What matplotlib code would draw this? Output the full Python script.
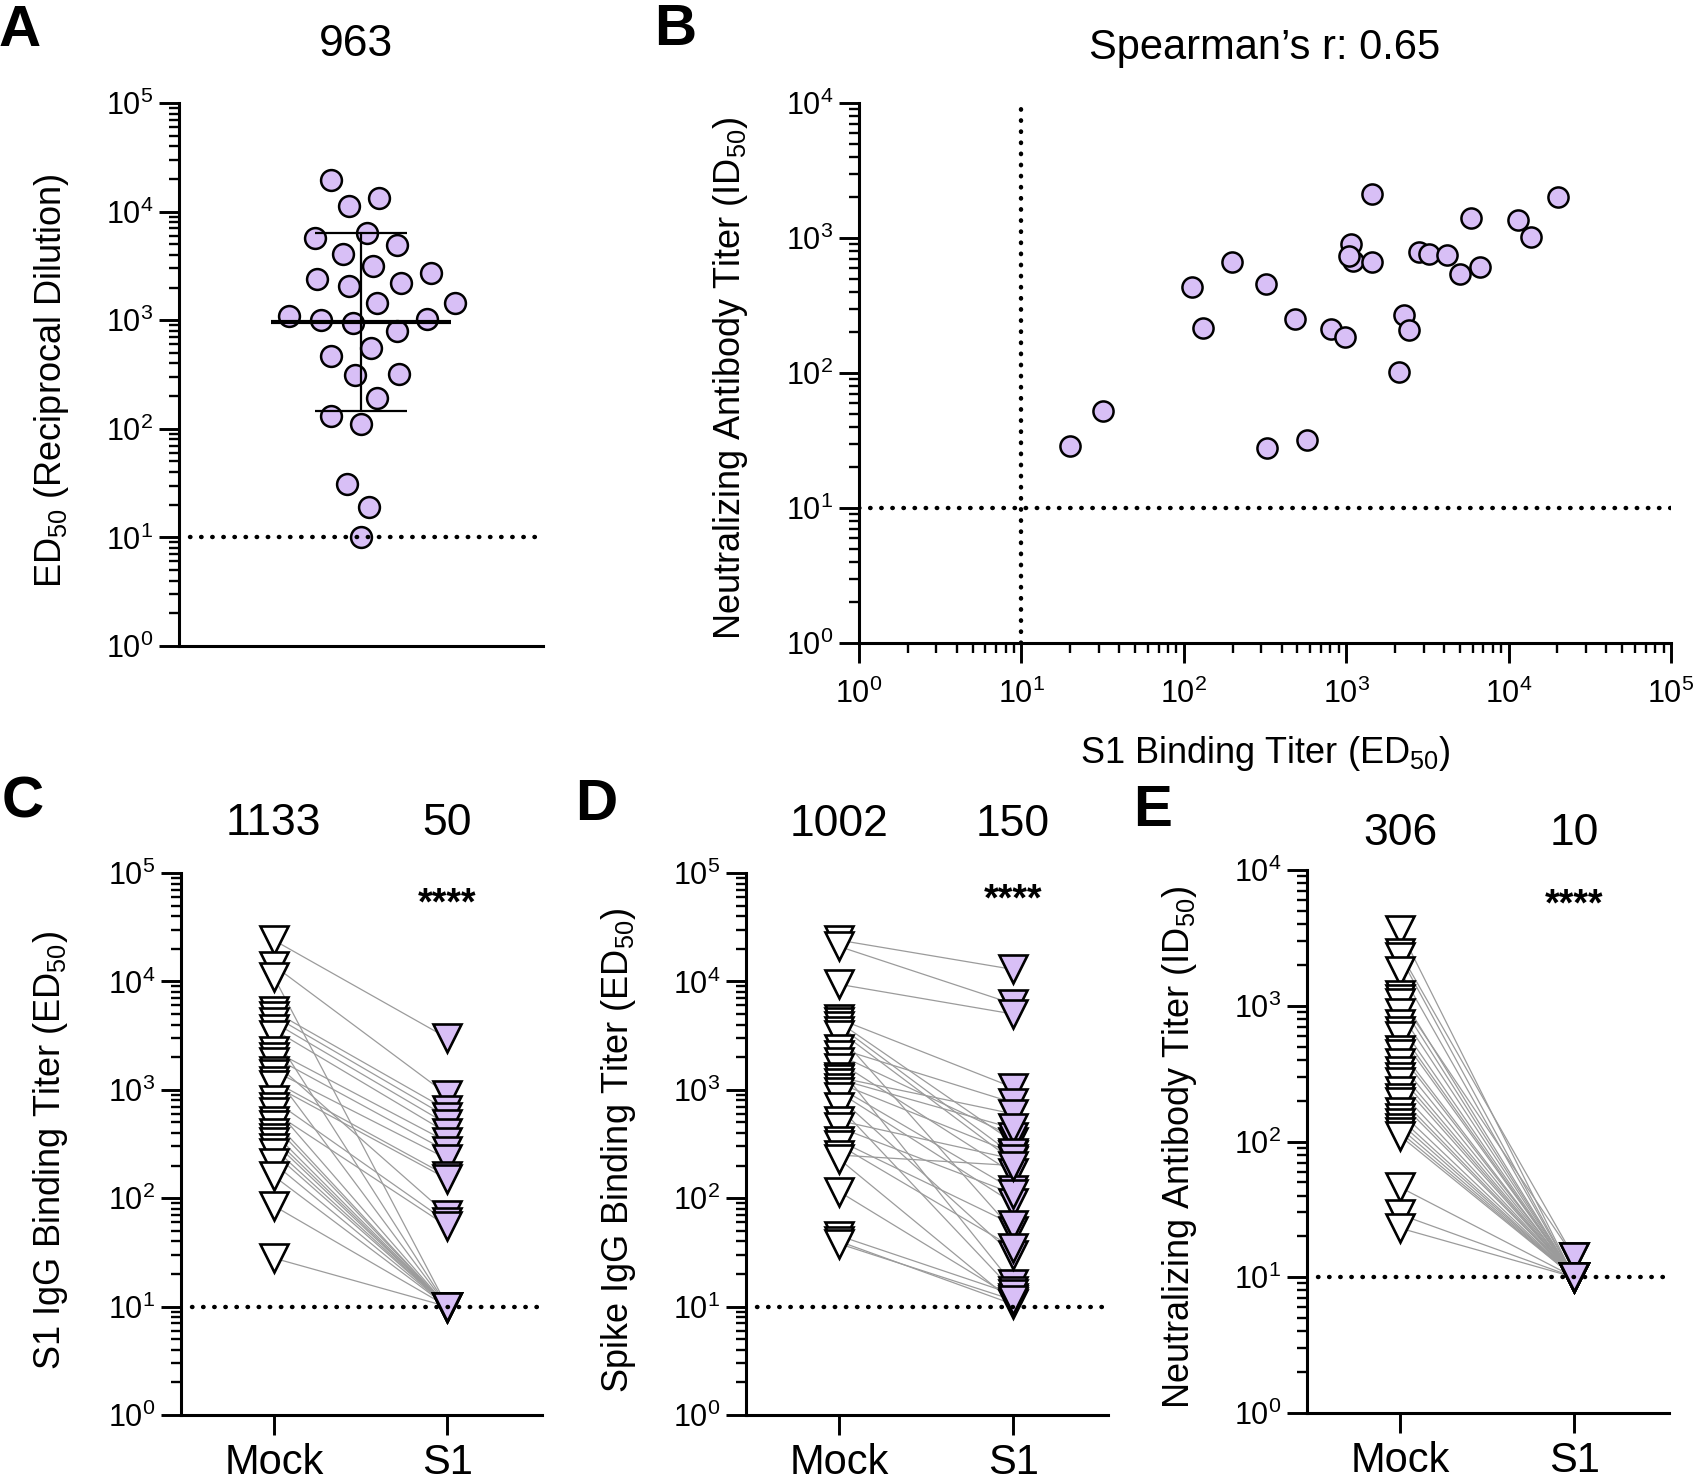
import numpy as np
import matplotlib.pyplot as plt
import matplotlib.transforms as mtransforms
from matplotlib.ticker import FixedLocator, LogLocator, NullFormatter, FuncFormatter

plt.rcParams['font.family'] = ['Liberation Sans', 'DejaVu Sans']
plt.rcParams['mathtext.fontset'] = 'custom'
plt.rcParams['mathtext.rm'] = 'Liberation Sans'
plt.rcParams['mathtext.it'] = 'Liberation Sans:italic'
plt.rcParams['mathtext.bf'] = 'Liberation Sans:bold'

W, H = 1694, 1481
LAV = '#D8BFF6'
GREY = '#9B9B9B'

# ---- A: S1 binding titers (ED50) ----
ed50_A = [19500, 13400, 11200, 6400, 5750, 4950, 4050, 3150, 2700, 2400, 2200, 2050,
          1440, 1440, 1100, 1030, 1000, 940, 790, 550, 470, 320, 310, 194, 130, 110,
          31, 19, 10]
gmt_A = 963
gsd_A = 6.65

# ---- B: binding vs neutralizing ----
s1_B = [20, 32, 113, 131, 198, 321, 327, 486, 570, 805, 982, 1063, 1095, 1042, 1432,
        1445, 2128, 2278, 2443, 2806, 3222, 4168, 5036, 5894, 6635, 11430, 13800, 20100]
nab_B = [29, 52, 430, 215, 660, 454, 28, 253, 32, 213, 185, 901, 670, 741, 2104,
         659, 102, 271, 210, 794, 767, 748, 537, 1413, 615, 1365, 1015, 2015]
title_B = "Spearman\u2019s r: 0.65"

groups = ['Mock', 'S1']
lod = 10

# ---- C: S1 IgG binding, paired ----
mock_C = [24000, 14000, 11000, 5300, 4800, 4200, 3600, 3200, 2300, 2000, 1800, 1500,
          1400, 1200, 1100, 800, 700, 620, 520, 470, 400, 360, 330, 290, 260, 210,
          160, 85, 28]
s1_C = [3000, 900, 10, 650, 560, 480, 400, 10, 330, 270, 70, 230,
        10, 160, 150, 60, 10, 55, 10, 10, 10, 10, 10, 10, 10, 10,
        10, 10, 10]
gm_C = ['1133', '50']

# ---- D: Spike IgG binding, paired ----
mock_D = [24000, 21000, 9400, 4500, 4200, 3900, 3500, 3200, 2400, 2100, 1800, 1600,
          1300, 1250, 1150, 1050, 950, 850, 700, 520, 450, 340, 310, 250, 230, 115,
          45, 40, 38]
s1_D = [12900, 6200, 5000, 1050, 330, 250, 220, 50, 760, 370, 170, 16,
        600, 440, 260, 120, 90, 30, 14, 230, 110, 57, 35, 200, 11, 12,
        13, 10.5, 11.5]
gm_D = ['1002', '150']

# ---- E: neutralizing titers, paired ----
mock_E = [3600, 2450, 2300, 1800, 1210, 1130, 1050, 890, 730, 650, 600, 475,
          440, 380, 330, 300, 275, 235, 210, 195, 166, 148, 137, 126, 117, 110,
          46, 29, 23]
s1_E = [10, 14, 10, 10, 10, 14, 10, 10, 10, 10, 10, 10,
        10, 10, 10, 10, 10, 10, 10, 10, 10, 10, 10, 10, 10, 10,
        10, 10, 10]
gm_E = ['306', '10']

stars = '****'


def fx(x):
    return x / W


def fy(y):
    return 1 - y / H


def box(l, t, r, b):
    return [l / W, 1 - b / H, (r - l) / W, (b - t) / H]


def pow10(v, pos):
    return r'$\mathdefault{10^{%d}}$' % int(round(np.log10(v)))


def base_style(ax):
    for s in ['top', 'right']:
        ax.spines[s].set_visible(False)
    for s in ['left', 'bottom']:
        ax.spines[s].set_linewidth(2.2)
    ax.tick_params(which='major', length=14.5, width=2.1, labelsize=22, pad=4,
                   direction='out', color='black')
    ax.tick_params(which='minor', length=7.5, width=1.7, direction='out')


def log_axis(axis, top):
    axis.set_major_locator(FixedLocator([10.0 ** k for k in range(top + 1)]))
    axis.set_minor_locator(LogLocator(base=10, subs=np.arange(2, 10), numticks=60))
    axis.set_major_formatter(FuncFormatter(pow10))
    axis.set_minor_formatter(NullFormatter())


def dotted(**kw):
    return dict(color='black', lw=3.2, ls=(0, (0.1, 2.4)), dash_capstyle='round', **kw)


def swarm_x(ax, x0, values, gap_px, step_px=2.0):
    disp = ax.transData.transform(np.column_stack([np.full(len(values), x0), values]))
    cx = disp[0, 0]
    ys = disp[:, 1]
    offs = np.zeros(len(values))
    done = []
    for n, i in enumerate(np.argsort(ys)):
        k = 0
        while True:
            if k == 0:
                cands = [0.0]
            elif n % 2:
                cands = [k * step_px, -k * step_px]
            else:
                cands = [-k * step_px, k * step_px]
            hit = None
            for c in cands:
                if all((c - ox) ** 2 + (ys[i] - oy) ** 2 >= gap_px ** 2 for ox, oy in done):
                    hit = c
                    break
            if hit is not None:
                break
            k += 1
        offs[i] = hit
        done.append((hit, ys[i]))
    back = ax.transData.inverted().transform(np.column_stack([cx + offs, ys]))
    return back[:, 0]


def ylab(x, y, s):
    fig.text(fx(x), fy(y), s, rotation=90, rotation_mode='anchor',
             ha='center', va='baseline', fontsize=26)


def letter(x, y, s):
    fig.text(fx(x), fy(y), s, ha='center', va='baseline', fontsize=42, fontweight='bold')


fig = plt.figure(figsize=(W / 100, H / 100), dpi=100)
fig.patch.set_facecolor('white')

# ================= A =================
axA = fig.add_axes(box(179, 103, 543, 646))
base_style(axA)
axA.set_yscale('log')
axA.set_ylim(1, 1e5)
log_axis(axA.yaxis, 5)
axA.set_xlim(0, 1)
axA.set_xticks([])
xa = swarm_x(axA, 0.5, ed50_A, gap_px=31)
axA.plot(xa, ed50_A, 'o', ms=15, mfc=LAV, mec='black', mew=1.8, ls='none', zorder=3)
axA.errorbar(0.5, gmt_A, yerr=[[gmt_A - gmt_A / gsd_A], [gmt_A * gsd_A - gmt_A]],
             fmt='none', ecolor='black', elinewidth=1.6, capsize=33, capthick=1.6, zorder=4)
axA.hlines(gmt_A, 0.5 - 0.247, 0.5 + 0.247, color='black', lw=3.0, zorder=4)
axA.axhline(lod, xmin=0.03, xmax=1, zorder=5, **dotted())
fig.text(fx(356), fy(56), str(gmt_A), ha='center', va='baseline', fontsize=32)
ylab(61, 381, 'ED$_{50}$ (Reciprocal Dilution)')
letter(20, 46, 'A')

# ================= B =================
axB = fig.add_axes(box(859, 103, 1671, 643))
base_style(axB)
axB.set_xscale('log')
axB.set_yscale('log')
axB.set_xlim(1, 1e5)
axB.set_ylim(1, 1e4)
log_axis(axB.xaxis, 5)
log_axis(axB.yaxis, 4)
axB.tick_params(axis='x', which='major', pad=11)
axB.axvline(lod, zorder=1, **dotted())
axB.axhline(lod, zorder=1, **dotted())
axB.plot(s1_B, nab_B, 'o', ms=14.5, mfc=LAV, mec='black', mew=1.8, ls='none', zorder=3)
fig.text(fx(1265), fy(59), title_B, ha='center', va='baseline', fontsize=30)
fig.text(fx(1265), fy(763), 'S1 Binding Titer (ED$_{50}$)', ha='center', va='baseline',
         fontsize=26)
ylab(740, 378, 'Neutralizing Antibody Titer (ID$_{50}$)')
letter(675, 45, 'B')


# ================= C, D, E =================
def paired(rect, top, mock, s1, gms, title_base, star_base, label, lab_x, lab_y,
           let, let_x, let_y):
    ax = fig.add_axes(box(*rect))
    base_style(ax)
    ax.set_yscale('log')
    ax.set_ylim(1, 10.0 ** top)
    log_axis(ax.yaxis, top)
    ax.set_xlim(-0.535, 1.545)
    ax.set_xticks([0, 1])
    ax.set_xticklabels(groups, fontsize=30)
    ax.tick_params(axis='x', which='major', pad=6)
    ax.tick_params(axis='x', which='minor', length=0)
    for m, s in zip(mock, s1):
        ax.plot([0, 1], [m, s], color=GREY, lw=0.9, zorder=1)
    ax.plot(np.zeros(len(mock)), mock, 'v', ms=19.5, mfc='white', mec='black', mew=1.9,
            ls='none', zorder=3)
    ax.plot(np.ones(len(s1)), s1, 'v', ms=19.5, mfc=LAV, mec='black', mew=1.9,
            ls='none', zorder=3)
    ax.axhline(lod, xmin=0.03, xmax=1, zorder=5, **dotted())
    tr = mtransforms.blended_transform_factory(ax.transData, fig.transFigure)
    for i, g in enumerate(gms):
        ax.text(i, fy(title_base), g, transform=tr, ha='center', va='baseline',
                fontsize=32, clip_on=False)
    ax.text(1, fy(star_base), stars, transform=tr, ha='center', va='baseline',
            fontsize=27, fontweight='bold', clip_on=False)
    ylab(lab_x, lab_y, label)
    letter(let_x, let_y, let)
    return ax


paired((181, 873, 542, 1415), 5, mock_C, s1_C, gm_C, 835, 914,
       'S1 IgG Binding Titer (ED$_{50}$)', 60, 1151, 'C', 23, 818)
paired((746, 873, 1108, 1415), 5, mock_D, s1_D, gm_D, 836, 910,
       'Spike IgG Binding Titer (ED$_{50}$)', 628, 1150, 'D', 596, 820)
paired((1307, 870, 1669, 1413), 4, mock_E, s1_E, gm_E, 845, 915,
       'Neutralizing Antibody Titer (ID$_{50}$)', 1189, 1147, 'E', 1153, 826)

fig.savefig('out.png', dpi=100)
